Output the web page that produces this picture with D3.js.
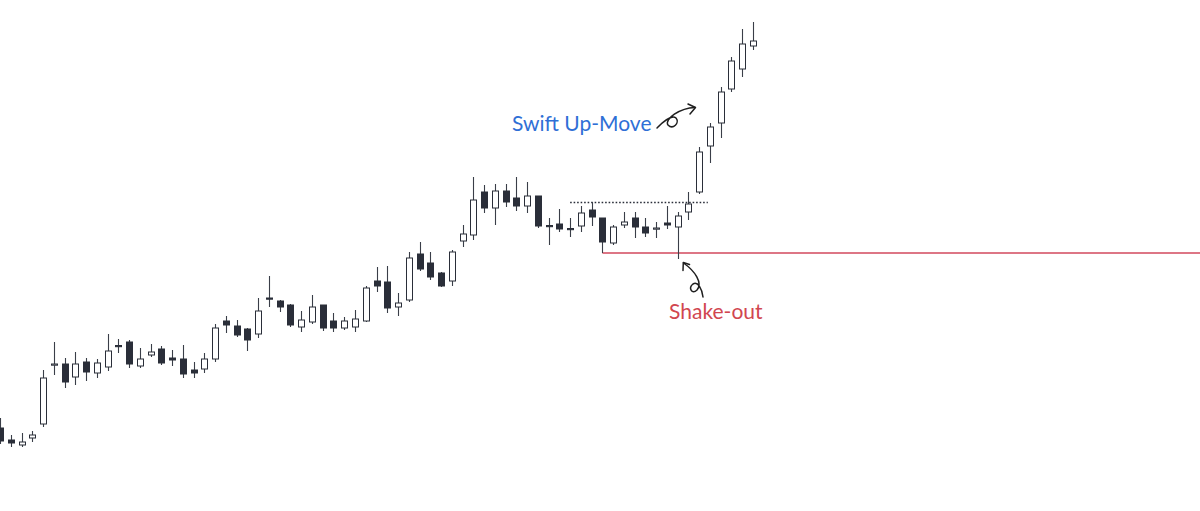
<!DOCTYPE html>
<html>
<head>
<meta charset="utf-8">
<script src="https://cdn.jsdelivr.net/npm/d3@7"></script>
<style>
  html, body { margin: 0; padding: 0; background: #ffffff; }
  svg { display: block; }
</style>
</head>
<body>
<svg id="chart" width="1200" height="511"></svg>
<script>
// ---- Data ----
const opens  = [22.2,21.0,20.5,21.2,22.6,28.55,28.6,27.3,28.8,27.7,28.3,30.45,30.8,28.4,29.5,30.1,29.2,29.1,28.0,28.1,
                29.1,32.9,32.4,32.1,31.6,35.2,34.9,34.5,32.3,32.8,34.5,32.9,32.2,32.3,32.9,36.9,36.8,34.3,35.0,39.6,
                38.7,37.7,36.9,40.9,41.5,45.8,44.2,45.9,45.2,44.4,45.4,42.45,42.6,42.15,42.4,44.0,43.2,40.7,42.5,43.2,
                42.3,42.1,42.7,42.3,43.8,45.8,50.4,52.7,56.1,58.1,60.4];
const highs  = [23.2,21.5,21.7,21.9,28.0,30.8,29.2,29.8,29.2,29.1,31.6,31.1,31.0,30.2,30.6,30.4,30.0,30.5,28.8,29.7,
                32.6,33.4,33.0,32.2,35.2,37.4,35.0,34.6,33.9,35.5,34.5,33.7,33.3,34.0,36.4,38.3,38.4,35.7,39.8,40.8,
                39.8,37.8,40.0,42.5,47.3,46.5,46.6,46.6,47.3,46.8,45.4,43.2,44.1,43.2,44.4,44.8,43.2,42.5,43.8,43.8,
                43.2,42.8,44.4,43.8,45.8,50.3,52.7,56.3,59.3,62.1,62.8];
const lows   = [20.6,20.3,20.3,20.8,22.3,27.5,26.2,26.5,26.9,27.2,27.9,29.7,28.2,28.2,29.3,28.5,28.4,27.2,27.2,27.7,
                28.8,31.7,31.3,29.9,31.2,34.3,33.8,32.3,31.8,32.6,31.9,31.8,32.0,31.8,32.8,35.8,33.7,33.4,34.8,37.9,
                37.0,36.3,36.4,40.3,41.0,43.7,42.5,44.3,43.9,43.7,42.2,40.5,41.8,41.3,41.8,42.4,39.7,40.5,42.2,41.2,
                41.3,41.2,42.1,39.1,43.0,45.6,48.7,51.2,55.8,57.3,60.0];
const closes = [20.9,20.7,20.8,21.5,27.2,28.6,26.8,28.6,27.8,28.7,29.9,30.35,28.6,29.1,29.8,28.7,29.0,27.6,27.7,29.1,
                32.2,32.5,31.5,31.0,33.9,35.15,34.3,32.5,33.0,34.3,32.2,32.2,32.9,33.1,36.2,36.4,34.2,34.7,39.2,38.1,
                37.3,36.4,39.8,41.6,45.0,44.2,45.9,44.8,44.4,45.4,42.4,42.4,42.1,42.1,43.7,43.3,40.8,42.3,42.8,42.3,
                41.7,42.2,42.5,43.4,44.6,49.8,52.3,55.8,58.9,60.6,60.9];

// Annotation levels
const resistance = { from: 53, to: 65.8, price: 44.8 };   // dotted line
const support    = { from: 56, price: 39.75 };             // red line to right edge
const labels = [
  { text: "Swift Up-Move", at: 47.6, price: 51.9, color: "#2f6fd6" },
  { text: "Shake-out",     at: 62.2, price: 33.1, color: "#d1464f" }
];

const candles = opens.map((o, i) => ({ i, o, h: highs[i], l: lows[i], c: closes[i] }));

// ---- Scales ----
const W = 1200, H = 511;
const x = d3.scaleLinear().domain([0, 70]).range([0, 753]);
const y = d3.scaleLinear().domain([20, 65]).range([450, 0]);

const svg = d3.select("#chart");
const dark = "#2a2e39";
const bodyW = 7;

// support (red) line
svg.append("line")
  .attr("x1", x(support.from)).attr("x2", W)
  .attr("y1", Math.round(y(support.price))).attr("y2", Math.round(y(support.price)))
  .attr("stroke", "#d2485c").attr("stroke-width", 1.7);

// resistance (dotted)
svg.append("line")
  .attr("x1", x(resistance.from)).attr("x2", x(resistance.to))
  .attr("y1", Math.round(y(resistance.price)) + 0.5).attr("y2", Math.round(y(resistance.price)) + 0.5)
  .attr("stroke", dark).attr("stroke-width", 1.3).attr("stroke-dasharray", "1.6,1.9");

// candles
const g = svg.append("g");
const cg = g.selectAll("g.c").data(candles).join("g").attr("class", "c");

cg.append("line")
  .attr("x1", d => Math.round(x(d.i)) + 0.5).attr("x2", d => Math.round(x(d.i)) + 0.5)
  .attr("y1", d => y(d.h)).attr("y2", d => y(d.l))
  .attr("stroke", "#3a3e48").attr("stroke-width", 1.1);

cg.append("rect")
  .attr("x", d => Math.round(x(d.i)) + 0.5 - bodyW / 2 + 0.5)
  .attr("width", bodyW - 1)
  .attr("y", d => y(Math.max(d.o, d.c)))
  .attr("height", d => Math.max(1.2, Math.abs(y(d.o) - y(d.c))))
  .attr("fill", d => d.c >= d.o ? "#ffffff" : dark)
  .attr("stroke", dark).attr("stroke-width", 1);

// labels
svg.selectAll("text.lbl").data(labels).join("text")
  .attr("class", "lbl")
  .attr("x", d => x(d.at)).attr("y", d => y(d.price))
  .attr("text-anchor", "start")
  .attr("font-family", "Lato, 'Open Sans', sans-serif")
  .attr("font-size", 21)
  .attr("fill", d => d.color)
  .text(d => d.text);

// hand-drawn arrows
const arrows = svg.append("g").attr("fill", "none").attr("stroke", "#1f1f1f")
  .attr("stroke-width", 1.5).attr("stroke-linecap", "round").attr("stroke-linejoin", "round");
// Swift Up-Move arrow
arrows.append("path").attr("d",
  "M657,128 C662,123 671,114 676,118 C680,123 673,130 668,125 C664,119 680,108 695,107.5");
arrows.append("path").attr("d", "M688,104 L695.5,107.5 L690,114");
// Shake-out arrow
arrows.append("path").attr("d",
  "M703,297 C702,289 698,281 693,284 C688,288 692,295 697,290 C703,283 695,271 683.5,263");
arrows.append("path").attr("d", "M683,270.5 L683.3,262.5 L689.5,264.5");
</script>
</body>
</html>
